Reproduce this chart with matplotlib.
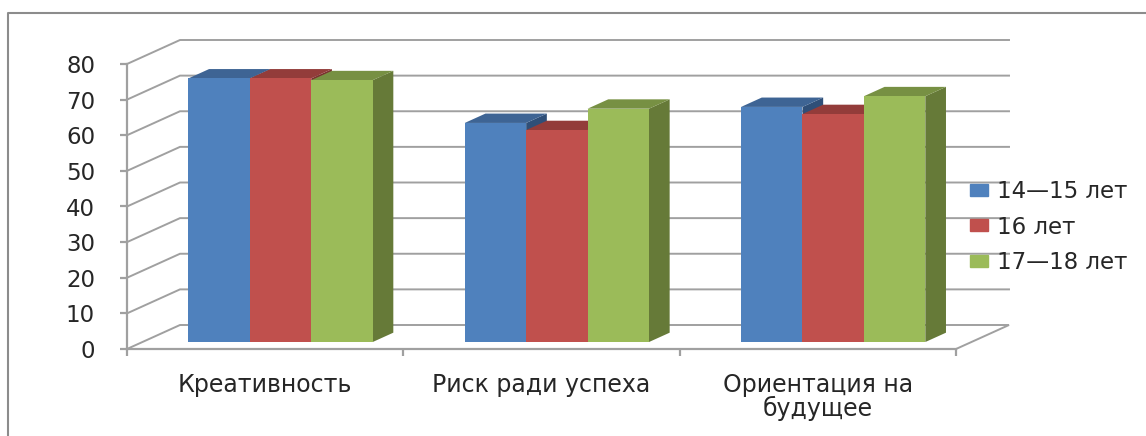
import matplotlib
matplotlib.use('Agg')
import matplotlib.pyplot as plt
from matplotlib.lines import Line2D
from matplotlib.patches import Patch, Polygon

# data
categories = ['Креативность', 'Риск ради успеха', 'Ориентация на\nбудущее']
series_names = ['14—15 лет', '16 лет', '17—18 лет']
values_14_15 = [74, 61.5, 66]
values_16 = [74, 59.5, 64]
values_17_18 = [73.5, 65.5, 69]
y_ticks = [0, 10, 20, 30, 40, 50, 60, 70, 80]

front_colors = ['#4F81BD', '#C0504D', '#9BBB59']
top_colors = ['#3E6494', '#933C3A', '#779043']
side_colors = ['#2F4F78', '#7A302E', '#667A38']
grid_color = '#A0A0A0'
text_color = '#262626'

W, H = 1146, 436
fig = plt.figure(figsize=(W / 100, H / 100), dpi=100)
# axes box = front plane of the fake 3d chart, in pixels
left, right, bottom, top = 127, 956, 349, 64
ax = fig.add_axes([left / W, 1 - bottom / H, (right - left) / W, (bottom - top) / H])
ax.set_xlim(0, 3)
ax.set_ylim(0, 80)
ax.patch.set_visible(False)

# depth of the box in data units
depth_x = 53 / ((right - left) / 3)
depth_y = 24 / ((bottom - top) / 80)


def project(x, y, d):
    # d = 0 is the front plane, d = 1 the back wall
    return (x + d * depth_x, y + d * depth_y)


# walls and gridlines
for v in y_ticks:
    pts = [project(0, v, 0), project(0, v, 1), project(3, v, 1)]
    if v == 0:
        pts.append(project(3, v, 0))
    ax.plot([p[0] for p in pts], [p[1] for p in pts], color=grid_color, lw=1.4,
            clip_on=False, zorder=1, solid_joinstyle='miter')

# bars
bar_w = 2 / 9
d0, d1 = 0.29, 0.68
all_values = [values_14_15, values_16, values_17_18]
for c in range(len(categories)):
    for s, vals in enumerate(all_values):
        x0 = c + 1 / 6 + s * bar_w
        x1 = x0 + bar_w
        v = vals[c]
        z = 3 + c + s * 0.1
        side = [project(x1, 0, d0), project(x1, 0, d1), project(x1, v, d1), project(x1, v, d0)]
        lid = [project(x0, v, d0), project(x1, v, d0), project(x1, v, d1), project(x0, v, d1)]
        face = [project(x0, 0, d0), project(x1, 0, d0), project(x1, v, d0), project(x0, v, d0)]
        ax.add_patch(Polygon(side, color=side_colors[s], lw=0, clip_on=False, zorder=z))
        ax.add_patch(Polygon(lid, color=top_colors[s], lw=0, clip_on=False, zorder=z))
        ax.add_patch(Polygon(face, color=front_colors[s], lw=0, clip_on=False, zorder=z))

# axes
for name in ['top', 'right']:
    ax.spines[name].set_visible(False)
for name in ['left', 'bottom']:
    ax.spines[name].set_color(grid_color)
    ax.spines[name].set_linewidth(1.6)
    ax.spines[name].set_zorder(2)
ax.set_yticks(y_ticks)
ax.set_xticks([0, 1, 2, 3])
ax.set_xticklabels([])
ax.set_xticks([0.5, 1.5, 2.5], minor=True)
ax.set_xticklabels(categories, minor=True, fontsize=17, color=text_color, linespacing=0.98)
ax.tick_params(axis='x', which='major', length=5, width=1.6, color=grid_color)
ax.tick_params(axis='x', which='minor', length=0, pad=17)
ax.tick_params(axis='y', length=5, width=1.6, color=grid_color, labelsize=16.5,
               labelcolor=text_color, pad=18)

# legend
handles = [Patch(color=front_colors[i], label=series_names[i]) for i in range(3)]
fig.legend(handles=handles, loc='center left', bbox_to_anchor=(970 / W, 1 - 227 / H),
           frameon=False, fontsize=16.5, labelcolor=text_color, handlelength=0.79,
           handleheight=0.44, handletextpad=0.39, labelspacing=0.55, borderpad=0, borderaxespad=0)

# outer frame, only top and left are in the picture
fig.add_artist(Line2D([8 / W, 8 / W, 1], [0, 1 - 13 / H, 1 - 13 / H], color='#8C8C8C', lw=1.5))

fig.savefig('out.png', dpi=100)
